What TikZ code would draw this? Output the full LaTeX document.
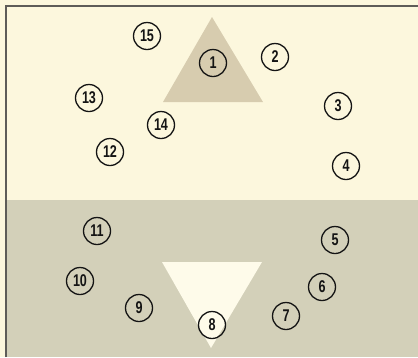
\documentclass[tikz,border=0pt]{standalone}
\usepackage{fontspec}
\usepackage{xcolor}
\newfontfamily\digitfont[FakeStretch=0.74]{Liberation Sans}
\definecolor{PaperCream}{HTML}{FCF7DD}
\definecolor{FloorGray}{HTML}{D3D0B9}
\definecolor{WedgeTan}{HTML}{D7CCAF}
\definecolor{WedgePale}{HTML}{FEFBEA}
\definecolor{FrameInk}{HTML}{5E5C58}
\definecolor{MarkInk}{HTML}{141414}
\tikzset{
  spot/.style={circle,draw=MarkInk,line width=1.3pt,minimum size=27pt,inner sep=0pt,
    font=\digitfont\bfseries\fontsize{17}{17}\selectfont,text=MarkInk}
}

\begin{document}
\begin{tikzpicture}[x=1pt,y=-1pt]
        \useasboundingbox (0,0) rectangle (418,357);
        % halves of the field
        \fill[PaperCream] (0,0) rectangle (418,357);
        \fill[FloorGray] (6,200) rectangle (418,357);
        \fill[WedgeTan] (163,102) -- (263,102) -- (212,17) -- cycle;
        \fill[WedgePale] (162,262) -- (262,262) -- (211,348) -- cycle;
        \draw[FrameInk,line width=1.6pt] (6,357) -- (6,6) -- (418,6);
        % numbered spots
        \node[spot] (p1) at (213,63) {1};
        \node[spot] (p2) at (275,57) {2};
        \node[spot] (p3) at (338,106) {3};
        \node[spot] (p4) at (346,166) {4};
        \node[spot] (p5) at (335,240) {5};
        \node[spot] (p6) at (322,287) {6};
        \node[spot] (p7) at (286,316) {7};
        \node[spot] (p8) at (212,325) {8};
        \node[spot] (p9) at (139,308) {9};
        \node[spot] (p10) at (80,281) {10};
        \node[spot] (p11) at (97,231) {11};
        \node[spot] (p12) at (110,152) {12};
        \node[spot] (p13) at (89,98) {13};
        \node[spot] (p14) at (161,125) {14};
        \node[spot] (p15) at (147,36) {15};
      \end{tikzpicture}
\end{document}
